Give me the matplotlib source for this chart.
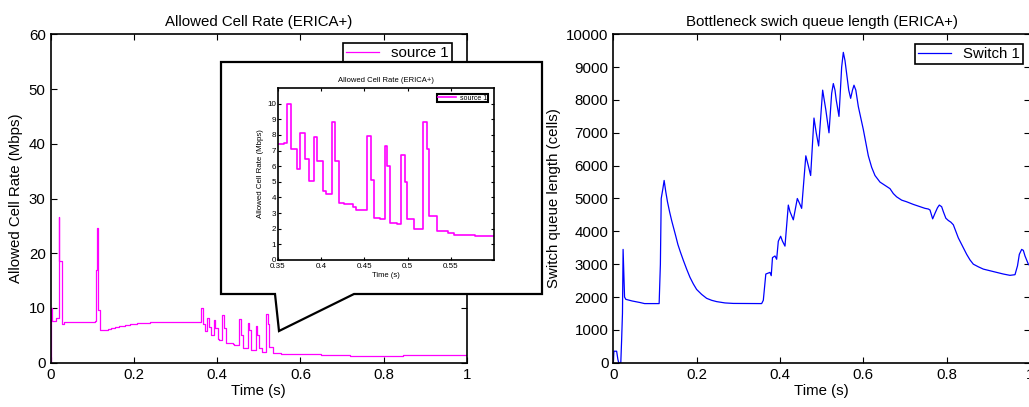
import matplotlib
matplotlib.use("Agg")
import matplotlib.pyplot as plt
from matplotlib.patches import Polygon

plt.rcParams['font.family'] = ['Liberation Sans', 'DejaVu Sans']

# ---------------- data ----------------
# Allowed Cell Rate of source 1 (Mbps), step-wise
acr_t = [0.0, 0.0005, 0.003, 0.013, 0.0195, 0.021, 0.027, 0.032, 0.107, 0.110,
         0.1125, 0.115, 0.119, 0.138, 0.145, 0.155, 0.165, 0.178, 0.192, 0.207,
         0.240, 0.320, 0.3565, 0.3605, 0.3655, 0.372, 0.3757, 0.3814, 0.3864,
         0.3918, 0.3956, 0.4021, 0.4057, 0.4126, 0.4163, 0.4209, 0.4264, 0.437,
         0.4408, 0.4534, 0.4573, 0.4611, 0.4676, 0.4734, 0.4764, 0.4802, 0.4875,
         0.4929, 0.4967, 0.4994, 0.5071, 0.5182, 0.5224, 0.5243, 0.5335, 0.5466,
         0.5535, 0.578, 0.650, 0.720, 0.846, 1.0]
acr_v = [0.0, 10.0, 7.6, 8.1, 26.7, 18.5, 7.1, 7.4, 7.6, 17.0,
         24.6, 9.6, 6.0, 6.1, 6.3, 6.5, 6.7, 6.9, 7.05, 7.2,
         7.35, 7.45, 7.5, 10.0, 7.1, 5.8, 8.1, 6.45, 5.05,
         7.85, 6.3, 4.4, 4.2, 8.8, 6.3, 3.65, 3.55, 3.4,
         3.2, 7.9, 5.1, 2.7, 2.65, 7.3, 6.0, 2.35, 2.3,
         6.7, 5.0, 2.6, 2.0, 8.85, 7.1, 2.8, 1.85, 1.75,
         1.6, 1.55, 1.45, 1.3, 1.45, 1.45]

# Bottleneck switch queue length (cells)
q_t = [0.0, 0.0015, 0.008, 0.011, 0.013, 0.018, 0.020, 0.022, 0.0235, 0.025,
       0.027, 0.030, 0.045, 0.065, 0.075, 0.110, 0.113, 0.115, 0.119, 0.122,
       0.126, 0.130, 0.135, 0.140, 0.144, 0.150, 0.155, 0.161, 0.168, 0.176,
       0.184, 0.192, 0.200, 0.212, 0.224, 0.236, 0.248, 0.268, 0.288,
       0.356, 0.360, 0.363, 0.366, 0.376, 0.379, 0.382, 0.388, 0.392, 0.396,
       0.4016, 0.406, 0.412, 0.420, 0.424, 0.432, 0.4416, 0.447, 0.452, 0.462,
       0.468, 0.4736, 0.4816, 0.487, 0.4928, 0.5024, 0.510, 0.5176, 0.524,
       0.528, 0.532, 0.535, 0.5416, 0.548, 0.552, 0.556, 0.560, 0.565, 0.5696,
       0.574, 0.5776, 0.582, 0.588, 0.594, 0.600, 0.606, 0.612, 0.620, 0.628,
       0.640, 0.652, 0.664, 0.672, 0.680, 0.692, 0.704, 0.720, 0.736, 0.748,
       0.756, 0.760, 0.7664, 0.772, 0.778, 0.7824, 0.788, 0.792, 0.798, 0.804,
       0.810, 0.816, 0.822, 0.828, 0.838, 0.848, 0.856, 0.864, 0.876, 0.888,
       0.904, 0.920, 0.936, 0.952, 0.964, 0.970, 0.9744, 0.980, 0.984, 0.988,
       0.996, 1.0]
q_v = [0, 350, 350, 100, 0, 0, 700, 1500, 3450, 2800,
       2000, 1930, 1880, 1830, 1800, 1800, 3000, 5000, 5300, 5550,
       5200, 4900, 4600, 4330, 4140, 3850, 3600, 3370, 3120, 2850,
       2600, 2400, 2230, 2080, 1960, 1900, 1860, 1820, 1805,
       1800, 1900, 2300, 2700, 2750, 2650, 3200, 3250, 3150, 3700,
       3850, 3700, 3550, 4800, 4600, 4350, 5000, 4850, 4700, 6300,
       6000, 5700, 7450, 7000, 6600, 8300, 7700, 7000, 8200,
       8500, 8300, 8000, 7500, 9000, 9450, 9200, 8800, 8300, 8050,
       8300, 8450, 8300, 7800, 7450, 7100, 6700, 6300, 5950, 5700,
       5500, 5400, 5300, 5150, 5050, 4950, 4900, 4820, 4750, 4700,
       4680, 4650, 4380, 4550, 4720, 4800, 4750, 4600, 4400, 4330,
       4280, 4200, 4000, 3800, 3550, 3300, 3130, 3000, 2920, 2850,
       2800, 2750, 2700, 2660, 2680, 2950, 3300, 3450, 3420, 3250,
       3000, 2950]

left_ticks_x = [0, 0.2, 0.4, 0.6, 0.8, 1]
left_ticks_y = [0, 10, 20, 30, 40, 50, 60]
right_ticks_y = [0, 1000, 2000, 3000, 4000, 5000, 6000, 7000, 8000, 9000, 10000]
inset_ticks_x = [0.35, 0.4, 0.45, 0.5, 0.55]
inset_ticks_y = list(range(0, 11))

# ---------------- figure ----------------
W, H = 1029, 407
fig = plt.figure(figsize=(W / 100, H / 100), dpi=100)

def ax_rect(l, r, t, b):
    return [l / W, 1 - b / H, (r - l) / W, (b - t) / H]

FS = 10.8

def style(ax, fs, lw=1.2, tl=4):
    ax.tick_params(direction='in', top=True, right=True, labelsize=fs,
                   length=tl, width=0.8)
    for s in ax.spines.values():
        s.set_linewidth(lw)

# left axes
ax1 = fig.add_axes(ax_rect(50.5, 467, 34.3, 362.7))
ax1.plot(acr_t, acr_v, color='#ff00ff', lw=0.9, drawstyle='steps-post',
         label='source 1')
ax1.set_xlim(0, 1)
ax1.set_ylim(0, 60)
ax1.set_xticks(left_ticks_x)
ax1.set_xticklabels(['0', '0.2', '0.4', '0.6', '0.8', '1'])
ax1.set_yticks(left_ticks_y)
ax1.set_title('Allowed Cell Rate (ERICA+)', fontsize=FS, pad=6)
ax1.set_xlabel('Time (s)', fontsize=FS, labelpad=2)
ax1.set_ylabel('Allowed Cell Rate (Mbps)', fontsize=FS, labelpad=4)
style(ax1, FS)
leg1 = ax1.legend(loc='upper right', bbox_to_anchor=(0.964, 0.9735),
                  borderaxespad=0, fancybox=False, framealpha=1,
                  edgecolor='black', fontsize=FS, handlelength=2.2,
                  borderpad=0.2, handletextpad=0.8)
leg1.get_frame().set_linewidth(1.2)

# right axes
ax2 = fig.add_axes(ax_rect(613.3, 1030, 34.3, 362.7))
ax2.plot(q_t, q_v, color='#0000ff', lw=0.9, label='Switch 1')
ax2.set_xlim(0, 1)
ax2.set_ylim(0, 10000)
ax2.set_xticks(left_ticks_x)
ax2.set_xticklabels(['0', '0.2', '0.4', '0.6', '0.8', '1'])
ax2.set_yticks(right_ticks_y)
ax2.set_title('Bottleneck swich queue length (ERICA+)', fontsize=FS, pad=6)
ax2.set_xlabel('Time (s)', fontsize=FS, labelpad=2)
ax2.set_ylabel('Switch queue length (cells)', fontsize=FS, labelpad=4)
style(ax2, FS)
leg2 = ax2.legend(loc='upper right', bbox_to_anchor=(0.983, 0.970),
                  borderaxespad=0, fancybox=False, framealpha=1,
                  edgecolor='black', fontsize=FS, handlelength=2.2,
                  borderpad=0.2, handletextpad=0.8)
leg2.get_frame().set_linewidth(1.2)

# callout box
pts = [(221, 62), (542, 62), (542, 294), (354, 294), (279, 331), (275, 294),
       (221, 294)]
poly = Polygon([(x / W, 1 - y / H) for x, y in pts], closed=True,
               transform=fig.transFigure, facecolor='white',
               edgecolor='black', lw=1.6, zorder=3)
fig.add_artist(poly)

# inset axes
FSi = 5.8
ax3 = fig.add_axes(ax_rect(278, 494, 88, 260))
ax3.set_zorder(4)
ax3.plot(acr_t, acr_v, color='#ff00ff', lw=1.2, drawstyle='steps-post',
         label='source 1')
ax3.set_xlim(0.35, 0.6)
ax3.set_ylim(0, 11)
ax3.set_xticks(inset_ticks_x)
ax3.set_xticklabels(['0.35', '0.4', '0.45', '0.5', '0.55'])
ax3.set_yticks(inset_ticks_y)
ax3.set_title('Allowed Cell Rate (ERICA+)', fontsize=5.5, pad=4)
ax3.set_xlabel('Time (s)', fontsize=5.5, labelpad=1)
ax3.set_ylabel('Allowed Cell Rate (Mbps)', fontsize=5.7, labelpad=2)
style(ax3, FSi, lw=1.2, tl=2.5)
ax3.tick_params(axis='x', pad=2.5)
ax3.tick_params(axis='y', pad=1.5)
leg3 = ax3.legend(loc='upper right', bbox_to_anchor=(0.97, 0.965),
                  borderaxespad=0, fancybox=False, framealpha=1,
                  edgecolor='black', fontsize=5.0, handlelength=2.5,
                  borderpad=0.1, handletextpad=0.6)
leg3.get_frame().set_linewidth(1.5)

fig.savefig('out.png', dpi=100)
